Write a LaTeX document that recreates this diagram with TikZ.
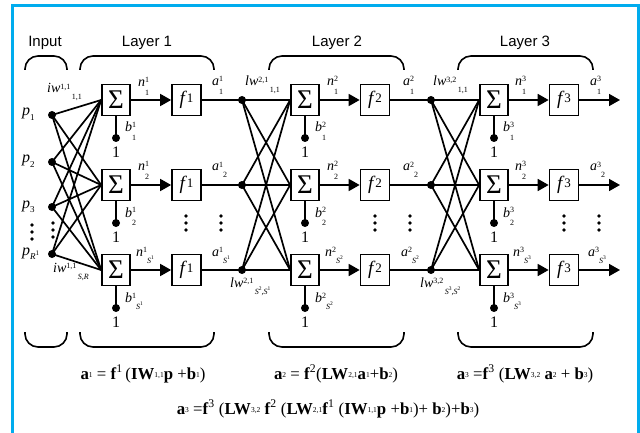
\documentclass[tikz,border=0pt]{standalone}
\usepackage{fontspec}
\setmainfont{Liberation Serif}
\newfontfamily\labsans{Liberation Sans}
\usetikzlibrary{arrows.meta}
\definecolor{frameblue}{RGB}{0,172,238}
\newcommand\sz[1]{\fontsize{#1}{#1}\selectfont}
\newcommand\stk[2]{\rlap{\raisebox{0.3em}{\sz{8}#1}}\raisebox{-0.62em}{\sz{8}#2}}
\newcommand\stg[2]{\raisebox{0.28em}{\sz{8}#1}\raisebox{-0.5em}{\sz{8}#2}}
\newcommand\Sx[1]{\textit{S}\raisebox{0.45em}{\sz{5.5}#1}}
\newcommand\es[1]{\raisebox{0.1em}{\sz{7.5}#1}}
\begin{document}
\begin{tikzpicture}[x=1pt,y=-1pt,
  ln/.style={line width=1.7pt},
  sumbox/.style={draw,line width=1.7pt,minimum width=28pt,minimum height=31pt,inner sep=0pt,font=\sz{27}},
  fnbox/.style={draw,line width=1.7pt,minimum width=29pt,minimum height=31pt,inner sep=0pt,font=\sz{19}},
  dot/.style={circle,fill,inner sep=0pt,minimum size=8pt},
  arr/.style={line width=1.7pt,-{Triangle[length=11pt,width=12pt]}},
  lab/.style={inner sep=0pt,anchor=base west,font=\sz{14}},
  plab/.style={inner sep=0pt,anchor=base west,font=\sz{16}},
  one/.style={inner sep=0pt,font=\sz{16}},
  vdot/.style={circle,fill,inner sep=0pt,minimum size=3.6pt},
  brace/.style={line width=1.6pt,rounded corners=13pt},
  ttl/.style={font=\labsans\sz{15},inner sep=0pt,anchor=base},
  eq/.style={font=\sz{16.8},inner sep=0pt}
]
\useasboundingbox (0,0) rectangle (640,433);
\draw[frameblue,line width=3pt] (12,460) -- (12,6) -- (638,6) -- (638,460);

% titles and braces
\node[ttl] (tin) at (45,47) {Input};
\node[ttl] (tl1) at (147,47) {Layer 1};
\node[ttl] (tl2) at (337,47) {Layer 2};
\node[ttl] (tl3) at (525,47) {Layer 3};
\draw[brace] (25,70) -- (25,56) -- (67,56) -- (67,70);
\draw[brace] (80,70) -- (80,56) -- (214,56) -- (214,70);
\draw[brace] (269,70) -- (269,56) -- (404,56) -- (404,70);
\draw[brace] (458,70) -- (458,56) -- (593,56) -- (593,70);
\draw[brace] (25,332) -- (25,347) -- (67,347) -- (67,332);
\draw[brace] (80,332) -- (80,347) -- (214,347) -- (214,332);
\draw[brace] (269,332) -- (269,347) -- (404,347) -- (404,332);
\draw[brace] (458,332) -- (458,347) -- (593,347) -- (593,332);

% input dots
\node[dot] (p1) at (52,115) {};
\node[dot] (p2) at (52,162) {};
\node[dot] (p3) at (52,207) {};
\node[dot] (pR) at (52,254) {};
\node[plab] (lp1) at (22,116) {\textit{p}\raisebox{-0.3em}{\sz{9}1}};
\node[plab] (lp2) at (22,163) {\textit{p}\raisebox{-0.3em}{\sz{9}2}};
\node[plab] (lp3) at (22,208) {\textit{p}\raisebox{-0.3em}{\sz{9}3}};
\node[plab] (lpR) at (22,255) {\textit{p}\raisebox{-0.3em}{\sz{9}\textit{R}\raisebox{0.5em}{\sz{7}1}}};
\foreach \yy in {225,232,239} {
  \node[vdot] (vi\yy) at (32,\yy) {};
  \node[vdot] (vj\yy) at (53,\yy-2) {};
}

% layers
\foreach \r/\y in {1/100,2/185,3/270} {
  \node[sumbox] (s1\r) at (116,\y) {Σ};
  \node[fnbox] (f1\r) at (186.5,\y) {\textit{f}\raisebox{0.1em}{\sz{13}1}};
  \node[sumbox] (s2\r) at (305,\y) {Σ};
  \node[fnbox] (f2\r) at (375,\y) {\textit{f}\raisebox{0.1em}{\sz{13}2}};
  \node[sumbox] (s3\r) at (494,\y) {Σ};
  \node[fnbox] (f3\r) at (564,\y) {\textit{f}\raisebox{0.1em}{\sz{13}3}};
  \node[dot] (d2\r) at (242,\y) {};
  \node[dot] (d3\r) at (431,\y) {};
  \coordinate (out\r) at (620,\y);
  \draw[arr] (s1\r.east) -- (f1\r.west);
  \draw[arr] (s2\r.east) -- (f2\r.west);
  \draw[arr] (s3\r.east) -- (f3\r.west);
  \draw[ln] (f1\r.east) -- (d2\r.center);
  \draw[ln] (f2\r.east) -- (d3\r.center);
  \draw[arr] (f3\r.east) -- (out\r);
  \node[dot] (b1\r) at (116,{\y+38}) {};
  \node[dot] (b2\r) at (305,{\y+38}) {};
  \node[dot] (b3\r) at (494,{\y+38}) {};
  \draw[ln] (s1\r.south) -- (b1\r.center);
  \draw[ln] (s2\r.south) -- (b2\r.center);
  \draw[ln] (s3\r.south) -- (b3\r.center);
  \node[one] (o1\r) at (116,{\y+52}) {1};
  \node[one] (o2\r) at (305,{\y+52}) {1};
  \node[one] (o3\r) at (494,{\y+52}) {1};
}
\foreach \i in {p1,p2,p3,pR} \foreach \r in {1,2,3} \draw[ln] (\i.center) -- (s1\r.west);
\foreach \i in {1,2,3} \foreach \r in {1,2,3} {
  \draw[ln] (d2\i.center) -- (s2\r.west);
  \draw[ln] (d3\i.center) -- (s3\r.west);
}
\foreach \x in {186,221,375,410,564,599} \foreach \yy in {216,223,230}
  \node[vdot] (v\x-\yy) at (\x,\yy) {};

% labels row 1
\node[lab] (liw1) at (47,93) {\textit{iw}\stg{1,1}{\,1,1}};
\node[lab] (ln11) at (138,87) {\textit{n}\stk{1}{1}};
\node[lab] (lb11) at (125,132) {\textit{b}\stk{1}{1}};
\node[lab] (la11) at (212,86) {\textit{a}\stk{1}{1}};
\node[lab] (llw2) at (245,86) {\textit{lw}\stg{2,1}{\,1,1}};
\node[lab] (ln21) at (327,86) {\textit{n}\stk{2}{1}};
\node[lab] (lb21) at (315,132) {\textit{b}\stk{2}{1}};
\node[lab] (la21) at (403,86) {\textit{a}\stk{2}{1}};
\node[lab] (llw3) at (433,86) {\textit{lw}\stg{3,2}{\,1,1}};
\node[lab] (ln31) at (515,86) {\textit{n}\stk{3}{1}};
\node[lab] (lb31) at (503,132) {\textit{b}\stk{3}{1}};
\node[lab] (la31) at (590,86) {\textit{a}\stk{3}{1}};
% row 2
\node[lab] (ln12) at (138,171) {\textit{n}\stk{1}{2}};
\node[lab] (lb12) at (125,217) {\textit{b}\stk{1}{2}};
\node[lab] (la12) at (212,171) {\textit{a}\stg{1}{2}};
\node[lab] (ln22) at (327,171) {\textit{n}\stk{2}{2}};
\node[lab] (lb22) at (315,217) {\textit{b}\stk{2}{2}};
\node[lab] (la22) at (403,171) {\textit{a}\stg{2}{2}};
\node[lab] (ln32) at (515,171) {\textit{n}\stk{3}{2}};
\node[lab] (lb32) at (503,217) {\textit{b}\stk{3}{2}};
\node[lab] (la32) at (590,171) {\textit{a}\stg{3}{2}};
% row 3
\node[lab] (liwS) at (53,272) {\textit{iw}\stg{1,1}{\,\textit{S,R}}};
\node[lab] (ln13) at (136,256) {\textit{n}\stg{1}{\Sx{1}}};
\node[lab] (lb13) at (125,302) {\textit{b}\stg{1}{\Sx{1}}};
\node[lab] (la13) at (212,256) {\textit{a}\stg{1}{\Sx{1}}};
\node[lab] (llw2S) at (230,287) {\textit{lw}\stg{2,1}{\,\Sx{2},\Sx{1}}};
\node[lab] (ln23) at (325,256) {\textit{n}\stg{2}{\Sx{2}}};
\node[lab] (lb23) at (315,302) {\textit{b}\stg{2}{\Sx{2}}};
\node[lab] (la23) at (401,256) {\textit{a}\stg{2}{\Sx{2}}};
\node[lab] (llw3S) at (420,287) {\textit{lw}\stg{3,2}{\,\Sx{3},\Sx{2}}};
\node[lab] (ln33) at (513,256) {\textit{n}\stg{3}{\Sx{3}}};
\node[lab] (lb33) at (503,302) {\textit{b}\stg{3}{\Sx{3}}};
\node[lab] (la33) at (588,256) {\textit{a}\stg{3}{\Sx{3}}};

% equations
\node[eq] (eq1) at (143,374) {\textbf{a}\es{1} = \textbf{f}\textsuperscript{1}\,(\textbf{IW}\es{1,1}\textbf{p} +\textbf{b}\es{1})};
\node[eq] (eq2) at (336,374) {\textbf{a}\es{2} = \textbf{f}\textsuperscript{2}(\textbf{LW}\es{2,1}\textbf{a}\es{1}+\textbf{b}\es{2})};
\node[eq] (eq3) at (525,374) {\textbf{a}\es{3} =\textbf{f}\textsuperscript{3} (\textbf{LW}\es{3,2} \textbf{a}\es{2} + \textbf{b}\es{3})};
\node[eq] (eq4) at (328,409) {\textbf{a}\es{3} =\textbf{f}\textsuperscript{3} (\textbf{LW}\es{3,2} \textbf{f}\textsuperscript{2} (\textbf{LW}\es{2,1}\textbf{f}\textsuperscript{1} (\textbf{IW}\es{1,1}\textbf{p} +\textbf{b}\es{1})+ \textbf{b}\es{2})+\textbf{b}\es{3})};
\end{tikzpicture}
\end{document}
